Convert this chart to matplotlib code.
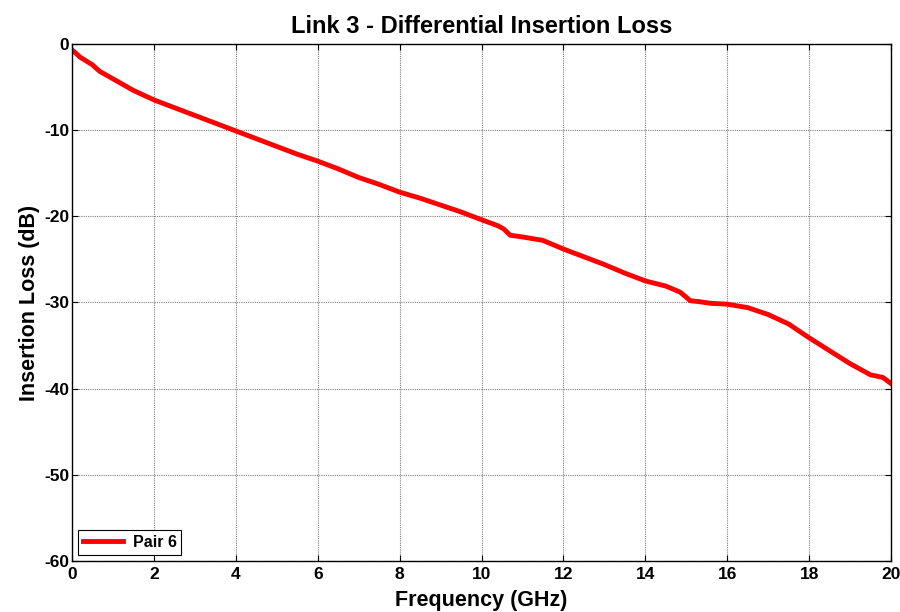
import matplotlib
matplotlib.use("Agg")
import matplotlib.pyplot as plt

plt.rcParams["font.family"] = ["Liberation Sans", "DejaVu Sans"]
plt.rcParams["font.weight"] = "bold"
plt.rcParams["axes.unicode_minus"] = False

# values
freq_ghz = [0.0, 0.05, 0.2, 0.49, 0.68, 0.98, 1.5, 2.0, 2.5, 3.0, 3.5, 4.0,
            4.5, 5.0, 5.5, 6.0, 6.5, 7.0, 7.5, 8.0, 8.5, 9.0, 9.5, 10.0,
            10.4, 10.55, 10.7, 11.0, 11.5, 12.0, 12.5, 13.0, 13.5, 14.0,
            14.5, 14.85, 15.1, 15.3, 15.6, 16.0, 16.5, 17.0, 17.5, 18.0,
            18.5, 19.0, 19.5, 19.8, 20.0]
loss_db = [-0.7, -0.9, -1.55, -2.4, -3.2, -4.0, -5.4, -6.5, -7.4, -8.3, -9.2,
           -10.1, -11.0, -11.9, -12.8, -13.6, -14.5, -15.5, -16.3, -17.2,
           -17.9, -18.7, -19.5, -20.4, -21.1, -21.5, -22.2, -22.4, -22.8,
           -23.8, -24.7, -25.6, -26.6, -27.5, -28.1, -28.8, -29.8, -29.9,
           -30.1, -30.2, -30.6, -31.4, -32.5, -34.1, -35.6, -37.1, -38.4,
           -38.7, -39.4]
series_name = "Pair 6"

fig = plt.figure(figsize=(9, 6.12), dpi=100)
ax = fig.add_axes([0.08, 0.0833, 0.91, 0.845])

ax.plot(freq_ghz, loss_db, color="red", linewidth=3.5, label=series_name)

ax.set_xlim(0, 20)
ax.set_ylim(-60, 0)
ax.set_xticks(range(0, 21, 2))
ax.set_yticks(range(-60, 1, 10))
ax.grid(True, color="#808080", linestyle=(0, (1, 1)), linewidth=0.8)
ax.tick_params(direction="in", top=True, right=True, labelsize=12.5,
               length=4, width=0.8, pad=2)
ax.tick_params(axis="x", pad=4)
for lbl in ax.get_xticklabels() + ax.get_yticklabels():
    lbl.set_fontweight("bold")
for s in ax.spines.values():
    s.set_linewidth(1.0)

ax.set_title("Link 3 - Differential Insertion Loss", fontsize=17,
             fontweight="bold", pad=8)
ax.set_xlabel("Frequency (GHz)", fontsize=15.5, fontweight="bold", labelpad=6)
ax.set_ylabel("Insertion Loss (dB)", fontsize=15.5, fontweight="bold", labelpad=3)

leg = ax.legend(loc="lower left", fancybox=False, edgecolor="black",
                framealpha=1, prop={"weight": "bold", "size": 11.5},
                handlelength=2.5, borderpad=0.3, borderaxespad=0.4,
                handletextpad=0.6)
leg.get_frame().set_linewidth(0.8)

fig.savefig("out.png", dpi=100)
